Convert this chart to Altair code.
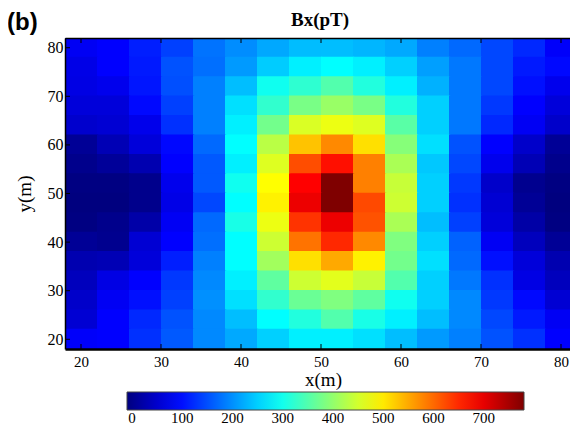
import altair as alt
import pandas as pd

# ---- data ----
x_centers = [20, 24, 28, 32, 36, 40, 44, 48, 52, 56, 60, 64, 68, 72, 76, 80]
y_centers = [80, 76, 72, 68, 64, 60, 56, 52, 48, 44, 40, 36, 32, 28, 24, 20]

# one list per row, top row (y=80) first, values in pT
bx_rows = [
    [80, 89, 112, 138, 178, 198, 219, 235, 236, 230, 220, 188, 170, 144, 120, 85],
    [70, 89, 108, 152, 175, 208, 247, 275, 286, 275, 250, 212, 182, 144, 108, 95],
    [68, 75, 105, 150, 188, 236, 298, 322, 350, 312, 275, 226, 182, 144, 100, 75],
    [60, 60, 95, 138, 188, 262, 324, 380, 405, 380, 312, 250, 182, 132, 89, 60],
    [50, 55, 73, 126, 188, 275, 375, 455, 470, 458, 355, 250, 182, 120, 80, 48],
    [8, 32, 60, 94, 170, 286, 430, 530, 575, 508, 390, 262, 152, 89, 48, 8],
    [0, 10, 28, 89, 158, 275, 458, 622, 670, 582, 418, 244, 144, 75, 32, 0],
    [-8, -8, 0, 75, 158, 298, 484, 681, 780, 582, 440, 250, 132, 48, 2, -8],
    [-10, -10, 0, 70, 144, 286, 494, 695, 780, 625, 445, 250, 126, 55, 8, -10],
    [-8, 0, 22, 80, 170, 305, 470, 642, 695, 618, 418, 236, 138, 60, 20, -8],
    [8, 2, 55, 89, 175, 286, 445, 592, 650, 575, 385, 250, 165, 80, 38, 8],
    [28, 32, 60, 112, 188, 286, 412, 508, 550, 494, 375, 262, 170, 100, 60, 28],
    [38, 68, 89, 132, 195, 275, 360, 445, 462, 440, 350, 250, 182, 126, 68, 38],
    [48, 80, 100, 138, 200, 262, 324, 368, 385, 360, 298, 250, 195, 132, 95, 55],
    [55, 89, 120, 152, 195, 236, 286, 312, 350, 305, 275, 236, 195, 144, 108, 80],
    [85, 89, 126, 158, 195, 220, 250, 275, 275, 262, 236, 208, 188, 152, 126, 89],
]

axis_ticks = [20, 30, 40, 50, 60, 70, 80]
colorbar_ticks = [0, 100, 200, 300, 400, 500, 600, 700]
panel_label = ["(b)"]
title_text = ["Bx(pT)"]
x_title = "x(m)"
y_title = "y(m)"
color_min, color_max = -10, 780

records = []
for yv, row in zip(y_centers, bx_rows):
    for xv, v in zip(x_centers, row):
        records.append({"x": xv, "y": yv, "bx": v})
df = pd.DataFrame(records)

# ---- layout / style ----
W, H = 505, 311
serif = "Liberation Serif"
sans = "Liberation Sans"

# 8 px per metre horizontally; the reference's right edge runs past the page
xscale = alt.Scale(domain=[18, 18 + W / 8], nice=False, zero=False)
yscale = alt.Scale(domain=[18, 82], nice=False, zero=False)

jet_fracs = [0, 0.125, 0.375, 0.625, 0.875, 1]
jet_domain = [color_min + f * (color_max - color_min) for f in jet_fracs]
jet_colors = ["#00007f", "#0000ff", "#00ffff", "#ffff00", "#ff0000", "#7f0000"]
cscale = alt.Scale(domain=jet_domain, range=jet_colors, interpolate="rgb")

legend_x, legend_y = 62, 354
legend_len, legend_thick = 397, 18

# each 4 m cell overlaps its later-drawn neighbours a hair, so no seams show
heat = (
    alt.Chart(df)
    .transform_calculate(
        x0="datum.x - 2", x1="datum.x + 2.15", y0="datum.y - 2", y1="datum.y + 2.15"
    )
    .mark_rect(strokeWidth=0, clip=True)
    .encode(
        x=alt.X(
            "x0:Q",
            scale=xscale,
            axis=alt.Axis(
                values=axis_ticks, title=x_title, grid=False, ticks=False, tickSize=0,
                labelPadding=5, labelFont=serif, labelFontSize=15, labelColor="black",
                labelFlush=False, domainColor="black", domainWidth=2.5,
                titleFont=serif, titleFontSize=19, titleFontWeight="normal",
                titleColor="black", titleX=258, titleY=36, titleAlign="center",
                titleBaseline="alphabetic", zindex=1,
            ),
        ),
        x2="x1:Q",
        y=alt.Y(
            "y0:Q",
            scale=yscale,
            axis=alt.Axis(
                values=axis_ticks, title=y_title, grid=False, ticks=False, tickSize=0,
                labelPadding=2, labelFont=serif, labelFontSize=16, labelColor="black",
                labelFlush=False, domainColor="black", domainWidth=1.5,
                titleFont=serif, titleFontSize=19, titleFontWeight="normal",
                titleColor="black", titleX=-41, titleY=H / 2, titleAngle=270,
                titleBaseline="middle", titleAlign="center", zindex=1,
            ),
        ),
        y2="y1:Q",
        color=alt.Color(
            "bx:Q",
            scale=cscale,
            legend=alt.Legend(
                orient="none", legendX=legend_x, legendY=legend_y, direction="horizontal",
                gradientLength=legend_len, gradientThickness=legend_thick, title=None,
                values=colorbar_ticks, labelFont=serif, labelFontSize=15,
                labelColor="black", labelOffset=1, labelOverlap=False,
                gradientStrokeColor="#444444", gradientStrokeWidth=1, padding=0,
            ),
        ),
    )
)

tick_df = pd.DataFrame({"t": axis_ticks})
tick_len = 5

bottom_ticks = alt.Chart(tick_df).mark_rule(color="black", strokeWidth=1).encode(
    x=alt.X("t:Q", scale=xscale, axis=None),
    y=alt.value(H), y2=alt.value(H - tick_len),
)
top_ticks = alt.Chart(tick_df).mark_rule(color="black", strokeWidth=1).encode(
    x=alt.X(
        "t:Q", scale=xscale,
        axis=alt.Axis(orient="top", labels=False, ticks=False, grid=False, title=None,
                      domainColor="black", domainWidth=1.5, zindex=1),
    ),
    y=alt.value(0), y2=alt.value(tick_len),
)
left_ticks = alt.Chart(tick_df).mark_rule(color="black", strokeWidth=1).encode(
    y=alt.Y("t:Q", scale=yscale, axis=None),
    x=alt.value(0), x2=alt.value(tick_len),
)

cb_df = pd.DataFrame({"c": colorbar_ticks})
cb_scale = alt.Scale(domain=[color_min, color_max],
                     range=[legend_x, legend_x + legend_len], nice=False, zero=False)
cb_top = alt.Chart(cb_df).mark_rule(color="#222222", strokeWidth=1).encode(
    x=alt.X("c:Q", scale=cb_scale, axis=None),
    y=alt.value(legend_y), y2=alt.value(legend_y + 3),
)
cb_bot = alt.Chart(cb_df).mark_rule(color="#222222", strokeWidth=1).encode(
    x=alt.X("c:Q", scale=cb_scale, axis=None),
    y=alt.value(legend_y + legend_thick - 4), y2=alt.value(legend_y + legend_thick),
)

panel = alt.Chart(pd.DataFrame({"label": panel_label})).mark_text(
    font=sans, fontSize=24, fontWeight="bold", align="left",
    baseline="alphabetic", color="black",
).encode(text="label:N", x=alt.value(-58), y=alt.value(-8))

heading = alt.Chart(pd.DataFrame({"label": title_text})).mark_text(
    font=serif, fontSize=19, fontWeight="bold", align="center",
    baseline="alphabetic", color="black",
).encode(text="label:N", x=alt.value(255), y=alt.value(-12.5))

chart = (
    alt.layer(heat, bottom_ticks, top_ticks, left_ticks, cb_top, cb_bot, panel, heading)
    .resolve_scale(x="independent", y="independent")
    .properties(
        width=W,
        height=H,
        padding={"left": 57, "top": 30, "right": 0, "bottom": 78},
        autosize=alt.AutoSizeParams(type="none"),
    )
    .configure(font=serif)
    .configure_axis(labelFont=serif)
    .configure_legend(labelFont=serif)
    .configure_view(strokeWidth=0)
)

chart.save("out.html", embed_options={"renderer": "svg", "actions": False})
